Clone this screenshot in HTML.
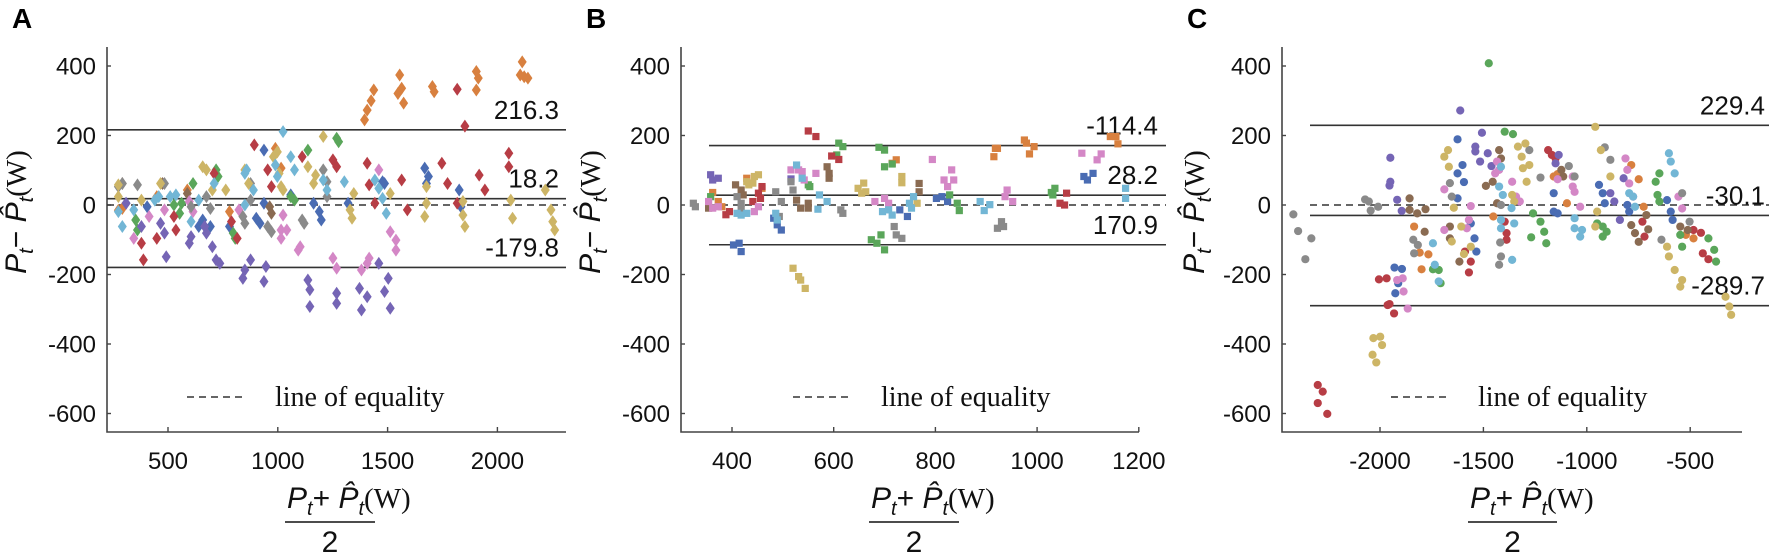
<!DOCTYPE html>
<html><head><meta charset="utf-8">
<style>
html,body{margin:0;padding:0;background:#fff;}
svg{display:block;font-family:"Liberation Sans",sans-serif;}
.serif{font-family:"Liberation Serif",serif;}
</style></head>
<body>
<svg id="fig" width="1772" height="556" viewBox="0 0 1772 556" xmlns="http://www.w3.org/2000/svg"></svg>
<script>
const colorNames = ["blue","orange","green","red","purple","brown","pink","gray","olive","cyan"];
const palette = ["#4a6cb3","#d8803f","#5aa65a","#b73d45","#7565b5","#8a6b52","#d487c6","#8a8a8a","#cdb566","#72b6d5"];

// Panel A (diamonds): x and y values per colour series (order = colorNames)
const aX = [
 [1669,1677,1686,1826,1834,1486,1477,1320,1163,1189,1198,937,937,1059,902,658,693,780,309,405,640,919],
 [1395,1407,1425,1437,1547,1555,1564,1573,1704,1712,1904,1913,1904,2113,2122,2139,2104,292,588,780,989,1015,274,449],
 [1268,1277,1137,719,728,614,562,1076,1059,806,797,353,361,553,527],
 [1817,1852,2052,2052,1747,1773,1917,1943,1817,1407,1416,1442,1564,1590,1251,1268,1111,893,954,971,379,388,449,527,536,710,815,789],
 [1146,1137,1146,1268,1268,1381,1372,1407,1512,1486,1503,1460,841,850,876,937,946,719,702,675,605,597,492,484,466,379,309,667,736],
 [292,963,971,475,588],
 [1093,1102,1251,1268,1381,1407,1416,1512,1538,1538,1460,1024,1015,1041,1015,344,414,484,823,597,614],
 [361,484,876,876,841,850,954,971,1111,1120,1207,1224,1224,675,693,274,292,605],
 [2218,2244,2252,2261,2061,2069,1843,1843,1852,1677,1677,1669,1512,1329,1338,1346,1207,1172,1163,1137,1024,1015,1006,980,998,867,850,763,658,675,702,466,274,274,379],
 [1024,1059,989,998,1076,1224,1207,1303,1442,1477,1494,1460,850,858,889,850,710,640,605,440,458,344,292,274,510,536]
];
const aY = [
 [106,62,82,43,-5,62,67,5,5,-19,-43,158,5,29,-38,-43,-62,-62,5,-5,-62,-53],
 [245,273,300,331,321,374,336,293,341,326,384,365,331,412,369,365,374,-10,43,-19,163,106,-15,24],
 [192,182,158,101,82,62,5,14,24,-96,-81,-43,-72,-24,0],
 [333,227,149,110,120,62,86,43,5,120,58,5,72,-14,130,110,139,173,101,53,-110,-158,-96,-33,-72,91,-96,-48],
 [-292,-216,-244,-254,-283,-302,-240,-264,-297,-249,-211,-168,-211,-187,-158,-220,-177,-158,-120,-81,-91,-110,-149,-81,-53,-62,5,-62,-168],
 [62,-5,-24,62,33],
 [-130,-120,-153,-182,-187,-168,-153,-77,-101,-130,101,-29,-72,-72,-96,-96,-33,-14,-14,10,-19],
 [58,62,62,14,-33,-53,-62,-77,-43,-53,101,67,24,24,-10,53,62,-5],
 [43,-14,-48,-72,14,-38,10,-29,-62,53,5,-33,33,-14,-38,33,197,86,62,110,43,53,91,139,153,62,101,43,110,101,43,62,58,24,14],
 [211,139,115,82,101,43,72,67,72,19,-24,48,91,101,43,0,62,14,-48,14,24,-14,-62,-19,24,29]
];
// Panel B (squares)
const bX = [
 [403,414,418,482,489,497,730,745,802,813,824,1092,1099,1110],
 [362,373,380,429,459,715,723,915,918,922,975,979,985,994,1144,1155,1159],
 [358,550,553,610,618,606,689,700,700,715,674,685,693,700,828,843,847,1028,1035,1031],
 [388,395,441,452,456,459,550,565,596,610,1045,1054,1058],
 [358,362,373,516],
 [354,407,418,422,527,535,550,550,587,591,591,768,768],
 [354,362,373,444,452,516,531,538,542,565,681,700,708,794,817,824,832,836,941,937,952,1088,1118,1126],
 [324,328,410,418,418,486,497,493,516,520,614,618,719,723,734,930,934,922],
 [429,433,441,444,452,520,531,535,544,648,655,659,663,734,734,764],
 [410,418,429,486,489,527,538,572,569,587,696,708,715,749,753,757,888,896,907,1174,1174]
];
const bY = [
 [-115,-110,-134,-38,-57,-72,-14,-33,19,24,10,82,72,91],
 [36,10,-5,77,48,120,130,139,163,163,187,178,147,168,197,197,176],
 [24,58,53,178,168,144,166,158,110,118,-100,-110,-86,-129,29,5,-16,36,48,29],
 [-28,-19,10,34,19,53,213,197,141,131,5,0,34],
 [87,72,77,75],
 [-9,58,43,29,14,-9,5,-9,110,91,77,62,38],
 [10,-9,-5,-19,-5,101,101,96,72,91,10,19,5,131,72,53,101,72,43,24,10,149,130,147],
 [5,-5,24,5,-9,38,10,-33,67,43,-14,-24,-62,-86,-96,-48,-62,-67],
 [67,58,63,82,87,-182,-206,-216,-240,48,34,63,38,82,64,5],
 [-24,-29,-24,-24,-43,115,77,29,-12,10,-19,-14,-29,5,-9,24,10,-16,1,48,19]
];
// Panel C (circles)
const cX = [
 [-1930,-1894,-1926,-1912,-1625,-1601,-1625,-1594,-1625,-1561,-1543,-1534,-1160,-1160,-1141,-941,-923,-913,-804,-795,-612,-594,-585],
 [-1835,-1799,-1808,-1766,-1096,-1141,-1160,-785,-749,-521,-484,-725,-1452],
 [-1474,-1397,-1357,-1260,-1224,-1206,-1269,-1196,-950,-923,-904,-923,-667,-649,-658,-649,-548,-539,-412,-384,-375,-1716,-1707,-1744],
 [-2301,-2277,-2301,-2255,-2005,-1968,-1954,-1932,-1963,-1589,-1561,-1570,-1397,-1388,-1388,-1187,-1169,-1151,-731,-721,-484,-448,-439,-412],
 [-1950,-1950,-1954,-1917,-1895,-1612,-1539,-1539,-1507,-1516,-1479,-1461,-1151,-1136,-886,-867,-840,-822],
 [-1857,-1820,-1780,-1857,-1784,-1662,-1662,-1616,-1488,-1455,-1424,-1415,-1434,-1123,-1114,-785,-767,-749,-712,-548,-512,-703],
 [-1917,-1890,-1886,-1866,-1689,-1561,-1570,-1580,-1689,-1361,-1342,-1324,-1141,-1068,-1068,-1059,-1032,-813,-804,-795,-776,-557,-539,-1434,-1424,-1443],
 [-2419,-2396,-2361,-2332,-2072,-2045,-2009,-2054,-1839,-1835,-1817,-1662,-1653,-1419,-1415,-1424,-1415,-1087,-1059,-1224,-1278,-913,-886,-639,-539,-503],
 [-2032,-1999,-1990,-2036,-2018,-1689,-1671,-1667,-1643,-1607,-1594,-1561,-1653,-1333,-1315,-1309,-1297,-1291,-1278,-1361,-1351,-959,-932,-886,-950,-959,-612,-603,-575,-548,-539,-329,-311,-302],
 [-1415,-1424,-1406,-1415,-1415,-1351,-1364,-1361,-1716,-1744,-1735,-1059,-1059,-1032,-1023,-795,-776,-767,-603,-594,-575]
];
const cY = [
 [-180,-184,-254,-225,189,115,91,66,19,-53,-96,-134,34,-19,-24,58,34,5,0,-19,14,-19,-43],
 [-62,-185,-137,-142,5,89,82,115,74,-86,-96,-5,-33],
 [408,211,204,-24,-48,-77,-93,-110,-53,-62,-77,-91,67,91,29,10,-86,-120,-96,-129,-163,-187,-225,-185],
 [-518,-537,-570,-601,-214,-211,-285,-312,-288,-134,-163,-194,-48,-81,-100,158,144,134,-48,-91,-72,-80,-139,-156],
 [136,67,56,15,-17,272,168,154,208,125,149,112,120,144,34,10,-43,77],
 [19,-24,-12,-14,-77,-62,-96,-163,55,67,158,134,5,101,82,-58,-81,-106,-29,-62,-72,-70],
 [-216,-211,-249,-298,45,-3,-43,-67,-72,67,24,10,74,82,53,38,-5,134,101,62,24,24,-10,125,101,91],
 [-27,-75,-156,-96,16,-16,-5,10,-100,-139,-115,63,24,-108,-148,-172,0,112,82,79,158,166,130,-100,34,-48],
 [-383,-379,-403,-431,-453,139,158,110,-8,-62,-141,-120,-105,168,139,106,177,67,115,29,10,225,158,82,-19,-62,-120,-148,-187,-235,-216,-264,-292,-316],
 [110,53,29,-43,-67,-53,-9,-158,-220,-110,-172,-38,-67,-91,-72,34,24,-5,149,125,91]
];

const yTicks = [400,200,0,-200,-400,-600];
const aXTicks = [500,1000,1500,2000];
const bXTicks = [400,600,800,1000,1200];
const cXTicks = [-2000,-1500,-1000,-500];
const aLines = [216.3,18.2,-179.8];
const aLineLabels = ["216.3","18.2","-179.8"];
const bLines = [170.9,28.2,-114.4];
const bLineLabels = ["-114.4","28.2","170.9"];
const cLines = [229.4,-30.1,-289.7];
const cLineLabels = ["229.4","-30.1","-289.7"];

const NS = "http://www.w3.org/2000/svg";
const svg = document.getElementById("fig");
function mk(tag, attrs, parent){
  const e = document.createElementNS(NS, tag);
  for (const k in attrs) e.setAttribute(k, attrs[k]);
  (parent||svg).appendChild(e);
  return e;
}
function yScale(v){ return 205 - v*0.3475; }

const panels = [
 {key:"a", letter:"A", X:aX, Y:aY, xTicks:aXTicks, lines:aLines, labels:aLineLabels,
  xs:v=>168+(v-500)*0.2196, axL:107, axR:566, lnL:107, lnR:566, labR:559, marker:"diamond",
  legDash:[187,247], legText:275, titleX:26, barL:285, barR:375},
 {key:"b", letter:"B", X:bX, Y:bY, xTicks:bXTicks, lines:bLines, labels:bLineLabels,
  xs:v=>732+(v-400)*0.5085, axL:681, axR:1139, lnL:709, lnR:1166, labR:1158, marker:"square",
  legDash:[793,853], legText:881, titleX:600, barL:869, barR:959},
 {key:"c", letter:"C", X:cX, Y:cY, xTicks:cXTicks, lines:cLines, labels:cLineLabels,
  xs:v=>1380+(v+2000)*0.2068, axL:1282, axR:1742, lnL:1310, lnR:1769, labR:1765, marker:"circle",
  legDash:[1391,1450], legText:1478, titleX:1204, barL:1468, barR:1557}
];

const SER = 'style="font-family:\'Liberation Serif\',serif"';

panels.forEach(p=>{
  const g = mk("g",{});
  
  
  const L = mk("text",{x:p.axL-95, y:28, "font-size":28, "font-weight":"bold", fill:"#000"}, g);
  L.textContent = p.letter;
  
  

  const ax = mk("path",{d:`M${p.axL},47 L${p.axL},432 L${p.axR},432`, fill:"none", stroke:"#444", "stroke-width":1.6}, g);
  
  
  yTicks.forEach(t=>{
    const y = yScale(t);
    mk("line",{x1:p.axL,x2:p.axL+4,y1:y,y2:y,stroke:"#444","stroke-width":1.4}, g);
    const tx = mk("text",{x:p.axL-11, y:y+8.5, "font-size":24, "text-anchor":"end", fill:"#111"}, g);
    tx.textContent = t;
    
    
  });
  p.xTicks.forEach(t=>{
    const x = p.xs(t);
    mk("line",{x1:x,x2:x,y1:432,y2:427,stroke:"#444","stroke-width":1.4}, g);
    const tx = mk("text",{x:x, y:469, "font-size":24, "text-anchor":"middle", fill:"#111"}, g);
    tx.textContent = t;
    
    
  });

  const eq = mk("line",{x1:p.lnL,x2:p.lnR,y1:yScale(0),y2:yScale(0),stroke:"#333","stroke-width":1.6,"stroke-dasharray":"7,5"}, g);
  
  
  p.lines.forEach((v,i)=>{
    const ln = mk("line",{x1:p.lnL,x2:p.lnR,y1:yScale(v),y2:yScale(v),stroke:"#333","stroke-width":1.6}, g);
    
    
    const lb = mk("text",{x:p.labR, y:yScale(v)-11, "font-size":26, "text-anchor":"end", fill:"#111"}, g);
    lb.textContent = p.labels[i];
    
    
  });

  p.X.forEach((xs,ci)=>{
    const col = palette[ci];
    xs.forEach((xv,i)=>{
      const cx = p.xs(xv), cy = yScale(p.Y[ci][i]);
      let m;
      if (p.marker==="diamond") m = mk("polygon",{points:`${cx},${cy-6.5} ${cx+4.5},${cy} ${cx},${cy+6.5} ${cx-4.5},${cy}`, fill:col}, g);
      else if (p.marker==="square") m = mk("rect",{x:cx-3.6,y:cy-3.6,width:7.2,height:7.2,fill:col}, g);
      else m = mk("circle",{cx:cx,cy:cy,r:4.1,fill:col}, g);
      
      
    });
  });

  const lg = mk("g",{}, g);
  
  
  mk("line",{x1:p.legDash[0],x2:p.legDash[1],y1:397,y2:397,stroke:"#333","stroke-width":1.6,"stroke-dasharray":"7,5"}, lg);
  const lt = mk("text",{x:p.legText,y:406,"font-size":28,"class":"serif",fill:"#111"}, lg);
  lt.textContent = "line of equality";

  const yt = mk("text",{transform:`translate(${p.titleX},212) rotate(-90)`, "text-anchor":"middle", "font-size":30, fill:"#111"}, g);
  
  
  yt.innerHTML = '<tspan font-style="italic">P</tspan><tspan font-style="italic" font-size="20" dy="7">t</tspan><tspan dy="-7">− </tspan><tspan font-style="italic">P̂</tspan><tspan font-style="italic" font-size="20" dy="7">t</tspan><tspan dy="-7" '+SER+' font-size="29">(W)</tspan>';

  const xt = mk("g",{}, g);
  
  
  const t1 = mk("text",{x:p.barL+2, y:508, "font-size":30, fill:"#111"}, xt);
  t1.innerHTML = '<tspan font-style="italic">P</tspan><tspan font-style="italic" font-size="20" dy="7">t</tspan><tspan dy="-7">+ </tspan><tspan font-style="italic">P̂</tspan><tspan font-style="italic" font-size="20" dy="7">t</tspan><tspan dy="-7" '+SER+' font-size="29">(W)</tspan>';
  mk("line",{x1:p.barL,x2:p.barR,y1:522,y2:522,stroke:"#111","stroke-width":1.5}, xt);
  const t2 = mk("text",{x:(p.barL+p.barR)/2, y:552, "font-size":30, "text-anchor":"middle", fill:"#111"}, xt);
  t2.textContent = "2";
});
</script>
</body></html>
